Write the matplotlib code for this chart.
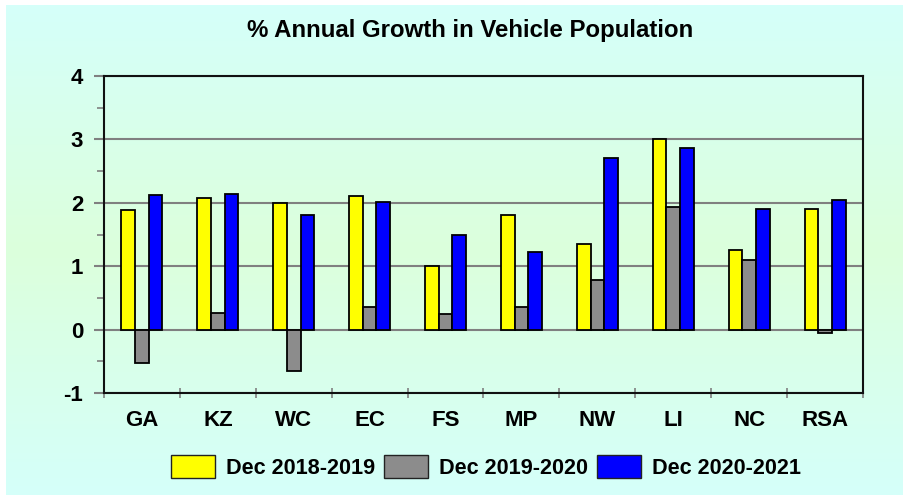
import numpy as np
import matplotlib
matplotlib.use("Agg")
import matplotlib.pyplot as plt
from matplotlib.colors import LinearSegmentedColormap
from matplotlib.patches import Patch
from matplotlib.ticker import MultipleLocator

categories = ["GA", "KZ", "WC", "EC", "FS", "MP", "NW", "LI", "NC", "RSA"]
series_names = ["Dec 2018-2019", "Dec 2019-2020", "Dec 2020-2021"]
s2018_19 = [1.88, 2.07, 2.00, 2.11, 1.00, 1.80, 1.35, 3.00, 1.25, 1.91]
s2019_20 = [-0.52, 0.26, -0.65, 0.35, 0.25, 0.36, 0.78, 1.94, 1.09, -0.05]
s2020_21 = [2.13, 2.14, 1.80, 2.02, 1.50, 1.23, 2.70, 2.87, 1.91, 2.04]
colors = ["#ffff00", "#8c8c8c", "#0000ff"]

plt.rcParams['font.family'] = ['Liberation Sans', 'DejaVu Sans']
plt.rcParams['font.weight'] = 'bold'
plt.rcParams['axes.unicode_minus'] = False

fig = plt.figure(figsize=(9.04, 4.95), dpi=100)
fig.patch.set_facecolor("white")

# background gradient
bg = fig.add_axes([6/904, 0, 1 - 6/904, 1 - 5/495], zorder=-10)
cmap = LinearSegmentedColormap.from_list("bg", [(0, "#d5fffa"), (0.5, "#dcffdc"), (1, "#d5fffa")])
grad = np.linspace(0, 1, 256).reshape(-1, 1)
bg.imshow(grad, aspect="auto", cmap=cmap, extent=[0, 1, 0, 1])
bg.set_axis_off()

ax = fig.add_axes([104/904, 1 - 393/495, (863 - 104)/904, (393 - 76)/495])
ax.set_facecolor("none")

x = np.arange(len(categories))
w = 0.18
for i, (vals, c, name) in enumerate(zip([s2018_19, s2019_20, s2020_21], colors, series_names)):
    ax.bar(x + (i - 1) * w, vals, width=w, color=c, edgecolor="black", linewidth=1.3,
           label=name, zorder=3)

ax.set_xlim(-0.5, len(categories) - 0.5)
ax.set_ylim(-1, 4)
ax.yaxis.set_major_locator(MultipleLocator(1))
ax.yaxis.set_minor_locator(MultipleLocator(0.5))
ax.grid(axis="y", which="major", color="#808080", linewidth=1.5, zorder=1)
ax.set_axisbelow(True)

ax.set_xticks(x)
ax.set_xticklabels(categories, fontsize=16, fontweight="bold")
ax.set_xticks(np.arange(-0.5, len(categories) + 0.5, 1), minor=True)
ax.tick_params(axis="x", which="major", length=0, pad=12)
ax.tick_params(axis="x", which="minor", direction="inout", length=7, width=1.2, color="#808080")

ax.tick_params(axis="y", which="major", direction="out", length=7, width=1.5, color="#808080",
               labelsize=16, pad=8)
ax.tick_params(axis="y", which="minor", direction="out", length=5, width=1.2, color="#808080")
for lbl in ax.get_yticklabels():
    lbl.set_fontweight("bold")

for s in ax.spines.values():
    s.set_color("#111111")
    s.set_linewidth(1.5)

fig.text(470/904, 1 - 30/495, "% Annual Growth in Vehicle Population", ha="center", va="center",
         fontsize=17.3, fontweight="bold")

handles = [Patch(facecolor=c, edgecolor="#222222", linewidth=1.0) for c in colors]
fig.legend(handles, series_names, loc="center", bbox_to_anchor=(486/904, 1 - 467/495),
           ncol=3, frameon=False, prop={"size": 15.6, "weight": "bold"},
           handlelength=2.0, handleheight=1.25, handletextpad=0.5, columnspacing=0.45)

fig.savefig("out.png", dpi=100)
